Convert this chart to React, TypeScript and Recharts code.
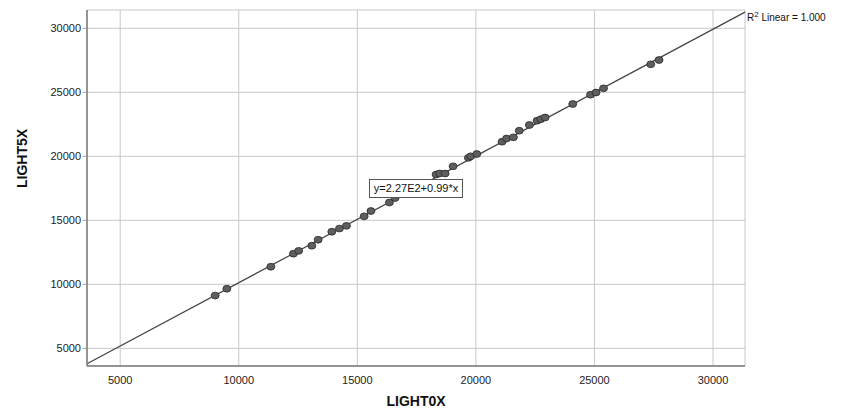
import React from 'react';
import { ScatterChart, Scatter, XAxis, YAxis, CartesianGrid, ReferenceLine } from 'recharts';

// LIGHT0X values
const light0x = [
  9005, 9498, 11354, 12306, 12526, 13082, 13348, 13925, 14246, 14541,
  15287, 15574, 16354, 16594, 18323, 18470, 18702, 19039, 19684, 19785,
  20039, 21105, 21295, 21582, 21830, 22256, 22581, 22737, 22918, 24086,
  24836, 25068, 25385, 27374, 27724,
];
// LIGHT5X values
const light5x = [
  9125, 9656, 11375, 12391, 12617, 13016, 13484, 14109, 14359, 14570,
  15313, 15727, 16391, 16742, 18578, 18656, 18656, 19219, 19883, 20000,
  20180, 21141, 21391, 21484, 22000, 22445, 22781, 22898, 23031, 24086,
  24813, 24984, 25313, 27188, 27523,
];
const ticks = [5000, 10000, 15000, 20000, 25000, 30000];
const xDomain = [3600, 31350];
const yDomain = [3620, 31430];
const intercept = 227;
const slope = 0.99;

const data = light0x.map((x, i) => ({ x, y: light5x[i] }));

const font = '"Liberation Sans", Arial, sans-serif';

const Dot = (props: any) => (
  <ellipse cx={props.cx} cy={props.cy} rx={4} ry={3.4} fill="#5e5e5e" stroke="#2a2a2a" strokeWidth={0.8} />
);

export default function App() {
  return (
    <div style={{ position: 'absolute', left: 0, top: 0, width: 851, height: 417, background: '#fff', fontFamily: font }}>
      <ScatterChart width={851} height={417} margin={{ top: 10, right: 106, bottom: 0, left: 0 }}>
        <CartesianGrid stroke="#c8c8c8" strokeWidth={1} />
        <XAxis
          type="number"
          dataKey="x"
          domain={xDomain}
          ticks={ticks}
          allowDataOverflow
          height={51}
          tickLine={false}
          axisLine={{ stroke: '#7a7a7a', strokeWidth: 1.5 }}
          tick={{ fill: '#222', fontSize: 11, fontFamily: font }}
          tickMargin={4}
          label={{ value: 'LIGHT0X', position: 'insideBottom', offset: 11, fill: '#111', fontSize: 14, fontWeight: 'bold', fontFamily: font }}
        />
        <YAxis
          type="number"
          dataKey="y"
          domain={yDomain}
          ticks={ticks}
          allowDataOverflow
          width={87}
          tickSize={4}
          tickLine={{ stroke: '#999' }}
          axisLine={{ stroke: '#7a7a7a', strokeWidth: 1.5 }}
          tick={{ fill: '#222', fontSize: 11, fontFamily: font }}
          label={{ value: 'LIGHT5X', angle: -90, position: 'insideLeft', offset: 22, fill: '#111', fontSize: 14, fontWeight: 'bold', fontFamily: font }}
        />
        <ReferenceLine
          segment={[
            { x: xDomain[0], y: intercept + slope * xDomain[0] },
            { x: xDomain[1], y: intercept + slope * xDomain[1] },
          ]}
          stroke="#444"
          strokeWidth={1.2}
          ifOverflow="visible"
        />
        <Scatter data={data} shape={Dot} isAnimationActive={false} />
      </ScatterChart>
      <div style={{ position: 'absolute', left: 369, top: 179, width: 92, height: 17, border: '1px solid #555', background: '#fff', fontSize: 11, lineHeight: '17px', textAlign: 'center', color: '#111' }}>
        y=2.27E2+0.99*x
      </div>
      <div style={{ position: 'absolute', left: 747, top: 10, fontSize: 10, color: '#111', whiteSpace: 'nowrap' }}>
        R<sup style={{ fontSize: 8 }}>2</sup> Linear = 1.000
      </div>
    </div>
  );
}
